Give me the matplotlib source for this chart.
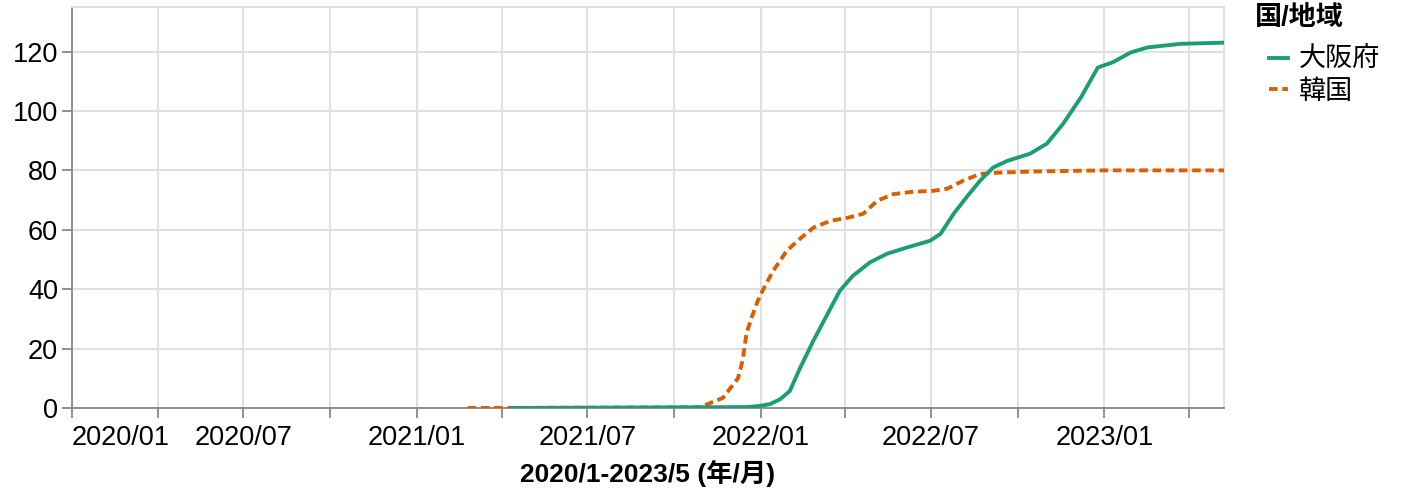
import pandas as pd
import matplotlib
matplotlib.use("Agg")
import matplotlib.pyplot as plt
import matplotlib.dates as mdates
from matplotlib.lines import Line2D

plt.rcParams['font.family'] = ['Liberation Sans', 'Noto Sans CJK JP', 'DejaVu Sans']

# 累計値
osaka_dates = ["2021-04-12", "2021-12-17", "2021-12-31", "2022-01-11", "2022-01-22",
               "2022-02-01", "2022-02-12", "2022-02-26", "2022-03-13", "2022-03-26",
               "2022-04-09", "2022-04-27", "2022-05-15", "2022-06-05", "2022-06-30",
               "2022-07-11", "2022-07-25", "2022-08-09", "2022-08-22", "2022-09-05",
               "2022-09-20", "2022-10-14", "2022-11-01", "2022-11-18", "2022-12-07",
               "2022-12-25", "2022-12-31", "2023-01-10", "2023-01-29", "2023-02-16",
               "2023-03-23", "2023-05-08"]
osaka_vals = [0, 0.3, 0.7, 1.3, 3, 5.7, 13.5, 22.6, 31.6, 39.4,
              44.5, 49, 51.9, 54, 56.3, 58.6, 65.4, 71.5, 76.5, 81,
              83.2, 85.6, 89, 95.6, 104.5, 114.6, 115.3, 116.4, 119.7, 121.4,
              122.6, 123]

korea_dates = ["2021-02-24", "2021-10-28", "2021-11-22", "2021-12-08", "2021-12-13",
               "2021-12-17", "2021-12-22", "2021-12-29", "2022-01-03", "2022-01-14",
               "2022-01-29", "2022-02-12", "2022-02-26", "2022-03-16", "2022-04-03",
               "2022-04-20", "2022-05-05", "2022-05-22", "2022-06-12", "2022-07-03",
               "2022-07-18", "2022-08-04", "2022-08-22", "2022-09-09", "2022-10-14",
               "2023-01-01", "2023-05-08"]
korea_vals = [0, 0.2, 3.4, 10, 16, 25, 30, 36, 39.4, 46,
              53, 57, 60.7, 63, 64, 65.4, 69.8, 72, 72.8, 73.1,
              73.8, 76.5, 78.8, 79.2, 79.6, 80, 80]

series_names = ["大阪府", "韓国"]
colors = ["#1b9e77", "#d95f02"]

fig = plt.figure(figsize=(14.03, 4.91), dpi=100)
ax = fig.add_axes([72 / 1403, 83 / 491, 1152 / 1403, 401 / 491])

ax.plot(pd.to_datetime(korea_dates), korea_vals, color=colors[1], lw=2.8,
        linestyle=(0, (2.2, 1.2)), zorder=3)
ax.plot(pd.to_datetime(osaka_dates), osaka_vals, color=colors[0], lw=2.8, zorder=4)

ax.set_xlim(pd.Timestamp("2020-01-01"), pd.Timestamp("2023-05-08"))
ax.set_ylim(0, 135)
ax.set_yticks(range(0, 121, 20))

ax.xaxis.set_major_locator(mdates.MonthLocator(bymonth=[1, 4, 7, 10]))
def fmt(x, pos):
    d = mdates.num2date(x)
    return d.strftime("%Y/%m") if d.month in (1, 7) else ""
ax.xaxis.set_major_formatter(plt.FuncFormatter(fmt))

ax.grid(True, color="#dddddd", lw=1.3)
ax.set_axisbelow(True)
for s in ["top", "right"]:
    ax.spines[s].set_color("#dddddd")
    ax.spines[s].set_linewidth(1.3)
for s in ["left", "bottom"]:
    ax.spines[s].set_color("#888888")
    ax.spines[s].set_linewidth(1.3)
ax.tick_params(length=7, width=1.3, color="#888888", labelsize=19.5, pad=3)
ax.tick_params(axis="x", pad=5)

fig.canvas.draw()
labs = ax.get_xticklabels()
labs[0].set_horizontalalignment("left")

ax.set_xlabel("2020/1-2023/5 (年/月)", fontsize=19, fontweight="bold", labelpad=7)

# 凡例
fig.text(1255 / 1403, 1 - 18 / 491, "国/地域", fontsize=19.5, fontweight="bold",
         ha="left", va="center")
handles = [Line2D([], [], color=colors[0], lw=2.8),
           Line2D([], [], color=colors[1], lw=2.8, linestyle=(0, (2.2, 1.2)))]
leg = fig.legend(handles, series_names, loc="center left",
                 bbox_to_anchor=(1250 / 1403, 1 - 76 / 491), frameon=False,
                 fontsize=19.5, handlelength=0.72,
                 handletextpad=0.4, labelspacing=0.22, borderpad=0.2)

fig.savefig("out.png", dpi=100)
